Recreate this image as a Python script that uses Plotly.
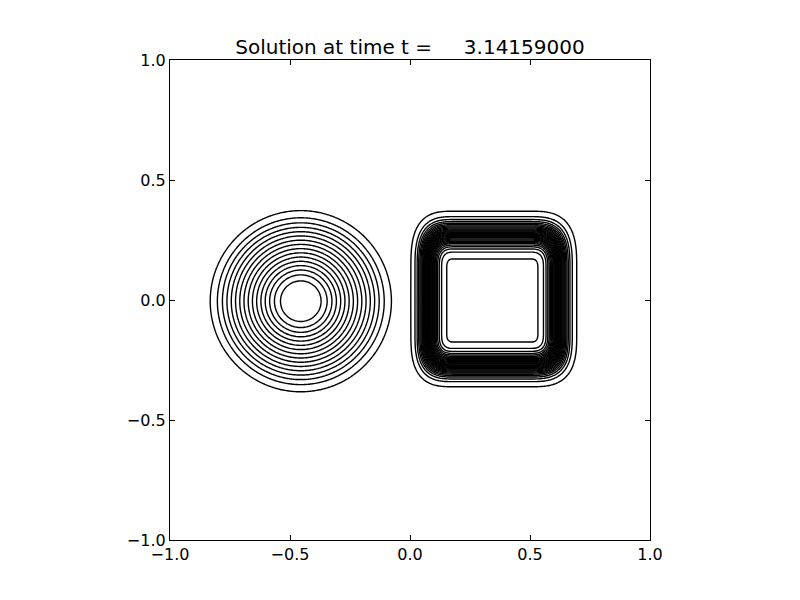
import numpy as np
import plotly.graph_objects as go

# ---- data parameters ----
title_text = "Solution at time t =\u00a0\u00a0\u00a0\u00a0\u00a03.14159000"
tick_vals = [-1.0, -0.5, 0.0, 0.5, 1.0]
tick_text = ["\u22121.0", "\u22120.5", "0.0", "0.5", "1.0"]

cone_center = [-0.455, -0.005]      # x, y
cone_radius = [0.37, 0.08]          # outer foot radius, flat-top radius
cone_slope = [1.9]                  # value per unit radius
cone_smooth = [0.02]

# square: smeared edges, each given as (outer foot, inner shoulder)
square_left = [0.045, 0.105]
square_right = [0.65, 0.585]
square_bottom = [-0.31, -0.235]
square_top = [0.315, 0.235]
square_smooth = [0.27]              # relative to band width
square_corner = [1.3, 3.0]          # corner offset and superellipse exponent
square_height = [1.0]

levels = dict(start=0.02, end=0.99, size=1.0 / 30)

# ---- field ----
n = 401
x = np.linspace(-1, 1, n)
y = np.linspace(-1, 1, n)
X, Y = np.meshgrid(x, y)

def sp(u, w):
    return w * np.logaddexp(0, u / w)

r = np.hypot(X - cone_center[0], Y - cone_center[1])
cone = cone_slope[0] * (sp(cone_radius[0] - r, cone_smooth[0]) - sp(cone_radius[1] - r, cone_smooth[0]))

def outward(v, lo, hi):
    # normalised distance past the shoulder (0 at shoulder, 1 at foot)
    return np.maximum((lo[1] - v) / (lo[1] - lo[0]), (v - hi[1]) / (hi[0] - hi[1]))

c, p = square_corner
qx = np.maximum(outward(X, square_left, square_right) + c, 0)
qy = np.maximum(outward(Y, square_bottom, square_top) + c, 0)
t = (qx ** p + qy ** p) ** (1 / p) - c
wn = square_smooth[0]
square = square_height[0] * (sp(1 - t, wn) - sp(-t, wn))

Z = cone + square

fig = go.Figure(go.Contour(
    x=x, y=y, z=Z,
    contours=dict(coloring="lines", **levels),
    colorscale=[[0, "black"], [1, "black"]],
    line=dict(width=1.4),
    showscale=False,
    hoverinfo="skip",
))

axis_common = dict(
    range=[-1, 1], tickvals=tick_vals, ticktext=tick_text,
    ticks="inside", ticklen=5, tickcolor="black",
    showline=True, linecolor="black", linewidth=1.2, mirror="ticks",
    showgrid=False, zeroline=False,
    tickfont=dict(family="DejaVu Sans", size=16, color="black"),
)

fig.update_layout(
    width=800, height=600,
    margin=dict(l=162, r=158, t=52, b=68),
    paper_bgcolor="white", plot_bgcolor="white",
    title=dict(text=title_text, x=402 / 800, xanchor="center",
               y=1 - 39 / 600, yanchor="middle", yref="container",
               font=dict(family="DejaVu Sans", size=20, color="black")),
    xaxis=axis_common,
    yaxis=axis_common,
    showlegend=False,
)

fig.write_html("out.html")
